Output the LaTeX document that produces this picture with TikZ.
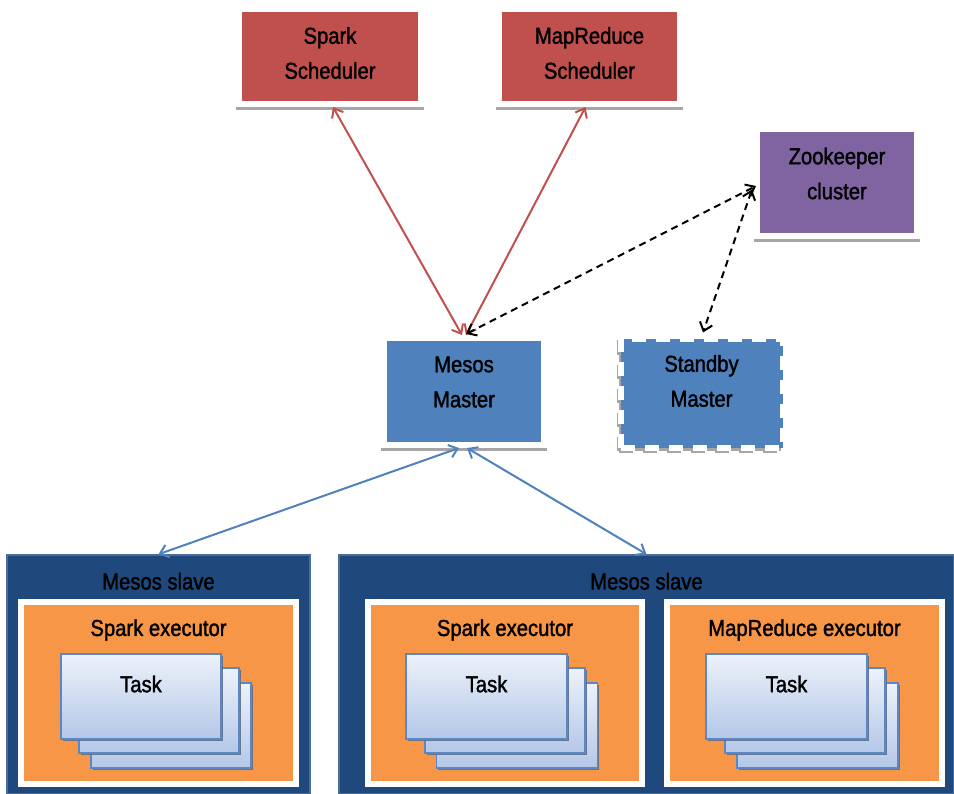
\documentclass[tikz,border=0pt]{standalone}
\usepackage{fontspec}
\setmainfont{Liberation Sans}[FakeStretch=0.88,FakeBold=1.5]
\usetikzlibrary{arrows.meta,shadows}
\definecolor{schedred}{HTML}{C0504D}
\definecolor{zkpurple}{HTML}{8064A2}
\definecolor{mblue}{HTML}{4F81BD}
\definecolor{slaveblue}{HTML}{1F497D}
\definecolor{slaveedge}{HTML}{4A6D99}
\definecolor{execorange}{HTML}{F79646}
\definecolor{shgray}{HTML}{A6A6A6}
\definecolor{cardtop}{HTML}{EDF2FB}
\definecolor{cardbot}{HTML}{B4C7E7}
\definecolor{cardedge}{HTML}{5B87C5}
\definecolor{cardshadow}{HTML}{5D6E8C}
\newcommand\bigfont{\fontsize{23}{35}\selectfont}
\begin{document}
\begin{tikzpicture}[x=1pt,y=-1pt,font=\bigfont,
  >={Straight Barb[length=8pt,width=13pt]},
  framed/.style={fill=#1, draw=white, line width=6pt, inner sep=0pt,
    drop shadow={shadow xshift=0pt, shadow yshift=-3pt, fill=shgray, draw=shgray, line width=6pt, opacity=1}},
  standby/.style={fill=mblue, draw=white, line width=6pt, dash pattern=on 14pt off 10pt, inner sep=0pt,
    drop shadow={shadow xshift=-2pt, shadow yshift=-3pt, fill=shgray, draw=shgray, line width=4pt, opacity=1}},
  slave/.style={fill=slaveblue, draw=slaveedge, line width=1.5pt, inner sep=0pt},
  exec/.style={fill=execorange, draw=white, line width=6pt, inner sep=0pt},
  card/.style={top color=cardtop, bottom color=cardbot, draw=cardedge, line width=1.6pt, inner sep=0pt,
    minimum width=160pt, minimum height=85pt,
    drop shadow={shadow xshift=1.5pt, shadow yshift=-2pt, fill=cardshadow, opacity=0.9}},
  lab/.style={font=\bigfont, align=center, text=black, fill=none, draw=none, inner sep=0pt},
  redlink/.style={<->, draw=schedred, line width=2pt},
  bluelink/.style={<->, draw=mblue, line width=2pt},
  zklink/.style={<->, draw=black, line width=2pt, dash pattern=on 7pt off 5pt}
]
\useasboundingbox (0,0) rectangle (954,794);

% schedulers
\node[framed=schedred, minimum width=182pt, minimum height=95pt,
  label={[lab, yshift=3.5pt]center:Spark\\Scheduler}] (ss) at (330,56.5) {};
\node[framed=schedred, minimum width=181pt, minimum height=95pt,
  label={[lab, yshift=3.5pt]center:MapReduce\\Scheduler}] (mrs) at (589.5,56.5) {};
% zookeeper
\node[framed=zkpurple, minimum width=160pt, minimum height=107pt,
  label={[lab, yshift=9pt]center:Zookeeper\\cluster}] (zk) at (837,182.5) {};
% masters
\node[framed=mblue, minimum width=160pt, minimum height=107pt,
  label={[lab, yshift=9.5pt]center:Mesos\\Master}] (ms) at (464,391.5) {};
\node[standby, minimum width=162pt, minimum height=109pt,
  label={[lab, yshift=13pt]center:Standby\\Master}] (sb) at (701.5,394) {};

% slaves
\node[slave, minimum width=303pt, minimum height=239pt,
  label={[lab, anchor=center, yshift=-27pt]north:Mesos slave}] (s1) at (158.5,674.5) {};
\node[slave, minimum width=615pt, minimum height=239pt,
  label={[lab, anchor=center, yshift=-27pt]north:Mesos slave}] (s2) at (646.5,674.5) {};

% executors
\node[exec, minimum width=275pt, minimum height=182pt,
  label={[lab, anchor=center, yshift=-31pt]north:Spark executor}] (e1) at (158.5,693) {};
\node[exec, minimum width=274pt, minimum height=182pt,
  label={[lab, anchor=center, yshift=-31pt]north:Spark executor}] (e2) at (505,693) {};
\node[exec, minimum width=275pt, minimum height=182pt,
  label={[lab, anchor=center, yshift=-31pt]north:MapReduce executor}] (e3) at (804.5,693) {};

% task stacks
\node[card] (t1c) at (171,725.5) {};
\node[card] (t1b) at (159,710.5) {};
\node[card, label={[lab, yshift=12.5pt]center:Task}] (t1a) at (141,696.5) {};

\node[card, minimum width=161pt] (t2c) at (517,725.5) {};
\node[card] (t2b) at (505,710.5) {};
\node[card, minimum width=161pt, label={[lab, yshift=12.5pt]center:Task}] (t2a) at (486.5,696.5) {};

\node[card, minimum width=161pt] (t3c) at (817.5,725.5) {};
\node[card] (t3b) at (805,710.5) {};
\node[card, minimum width=161pt, label={[lab, yshift=12.5pt]center:Task}] (t3a) at (786.5,696.5) {};

% connectors
\draw[redlink] ([xshift=3pt]ss.south) -- ([xshift=-2pt]ms.north);
\draw[redlink] ([xshift=-4pt]mrs.south) -- ([xshift=2pt]ms.north);
\draw[zklink] ([xshift=2pt,yshift=1pt]ms.north) -- ([xshift=2pt,yshift=-3.5pt]zk.west);
\draw[zklink] ([xshift=-2pt,yshift=-7pt]zk.west) -- ([xshift=1.5pt,yshift=4pt]sb.north);
\draw[bluelink] ([xshift=-5pt]ms.south) -- (s1.north);
\draw[bluelink] ([xshift=3pt]ms.south) -- (s2.north);
\end{tikzpicture}
\end{document}
